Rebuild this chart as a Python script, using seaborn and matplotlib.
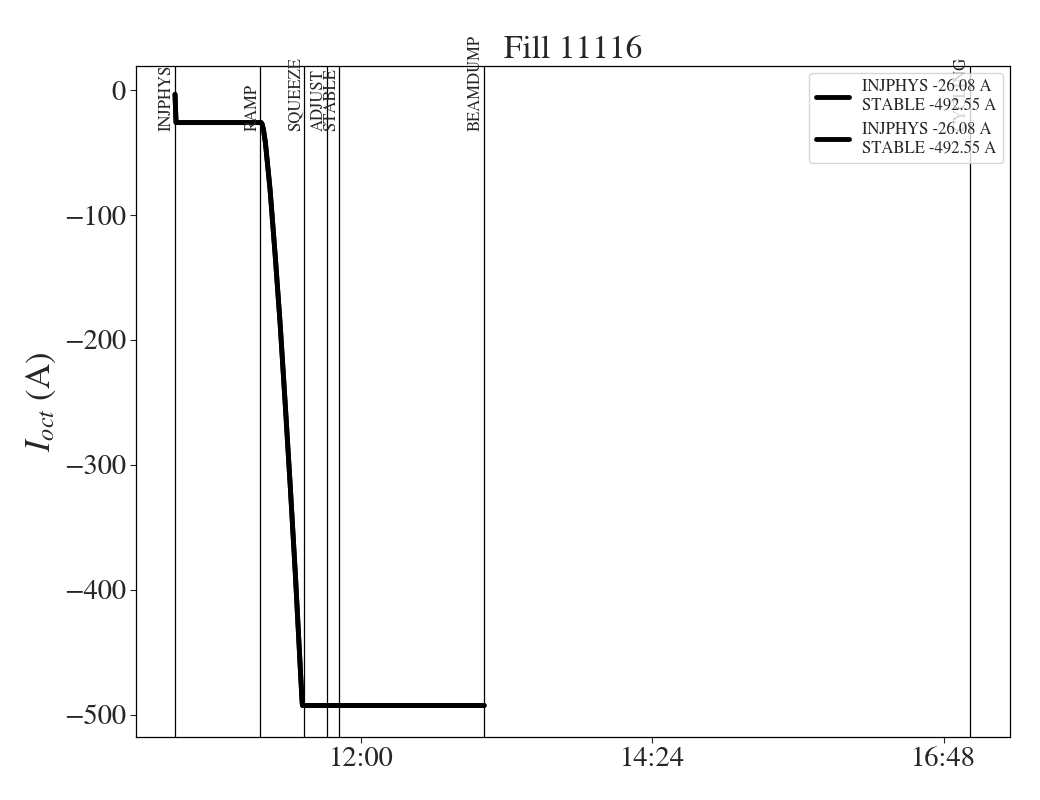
import pandas as pd
import numpy as np
import matplotlib
matplotlib.use("Agg")
import matplotlib.pyplot as plt
import matplotlib.dates as mdates
import seaborn as sns

# ===============================
# DATA
# ===============================
day = "2025-08-20 "
times = ["10:28:00", "10:28:30", "11:10:30", "11:11:00", "11:11:45", "11:12:40",
         "11:15:00", "11:17:30", "11:20:00", "11:22:30", "11:25:00", "11:27:30",
         "11:30:45", "11:31:00", "13:00:50"]
current = [-3.5, -26.08, -26.08, -27.0, -32.0, -42.0,
           -80.0, -132.0, -188.0, -252.0, -318.0, -388.0,
           -488.0, -492.55, -492.55]

modes = ["INJPHYS", "RAMP", "SQUEEZE", "ADJUST", "STABLE", "BEAMDUMP", "CYCLING"]
mode_times = ["10:28:00", "11:10:10", "11:31:50", "11:43:10", "11:49:05", "13:00:50", "17:00:55"]

tick_labels = ["12:00", "14:24", "16:48"]
legend_label = "INJPHYS -26.08 A\nSTABLE -492.55 A"

df = pd.DataFrame({"time": pd.to_datetime([day + t for t in times]), "I": current})
mode_dt = pd.to_datetime([day + t for t in mode_times])
tick_dt = pd.to_datetime([day + t for t in tick_labels])

# ===============================
# PLOT
# ===============================
sns.set_style("white")
plt.rcParams["font.family"] = ["STIXGeneral", "DejaVu Serif"]
plt.rcParams["mathtext.fontset"] = "stix"

fig = plt.figure(figsize=(10.4, 8), dpi=100)
ax = fig.add_axes([0.131, 0.079, 0.84, 0.8385])

for i in range(2):
    sns.lineplot(data=df, x="time", y="I", ax=ax, color="black", lw=3.5,
                 label=legend_label, estimator=None, sort=False)

for m, t in zip(modes, mode_dt):
    ax.axvline(t, color="black", lw=0.9)
    ax.text(t, -33, m, rotation=90, ha="right", va="bottom", fontsize=12)

ax.set_xlim(pd.Timestamp(day + "10:08:50"), pd.Timestamp(day + "17:20:40"))
ax.set_ylim(-517.6, 19.2)
ax.set_xticks(tick_dt)
ax.xaxis.set_major_formatter(mdates.DateFormatter("%H:%M"))
ax.tick_params(axis="both", labelsize=20.5, length=4, direction="out",
               bottom=True, left=True)
ax.set_xlabel("")
ax.set_ylabel("$I_{oct}$ (A)", fontsize=25)
ax.set_title("Fill 11116", fontsize=24)
for s in ax.spines.values():
    s.set_color("black")
    s.set_linewidth(0.9)

ax.legend(loc="upper right", fontsize=12, framealpha=0.8, handlelength=2.0,
          borderaxespad=0.4, labelspacing=0.5)

plt.savefig("out.png", dpi=100)
